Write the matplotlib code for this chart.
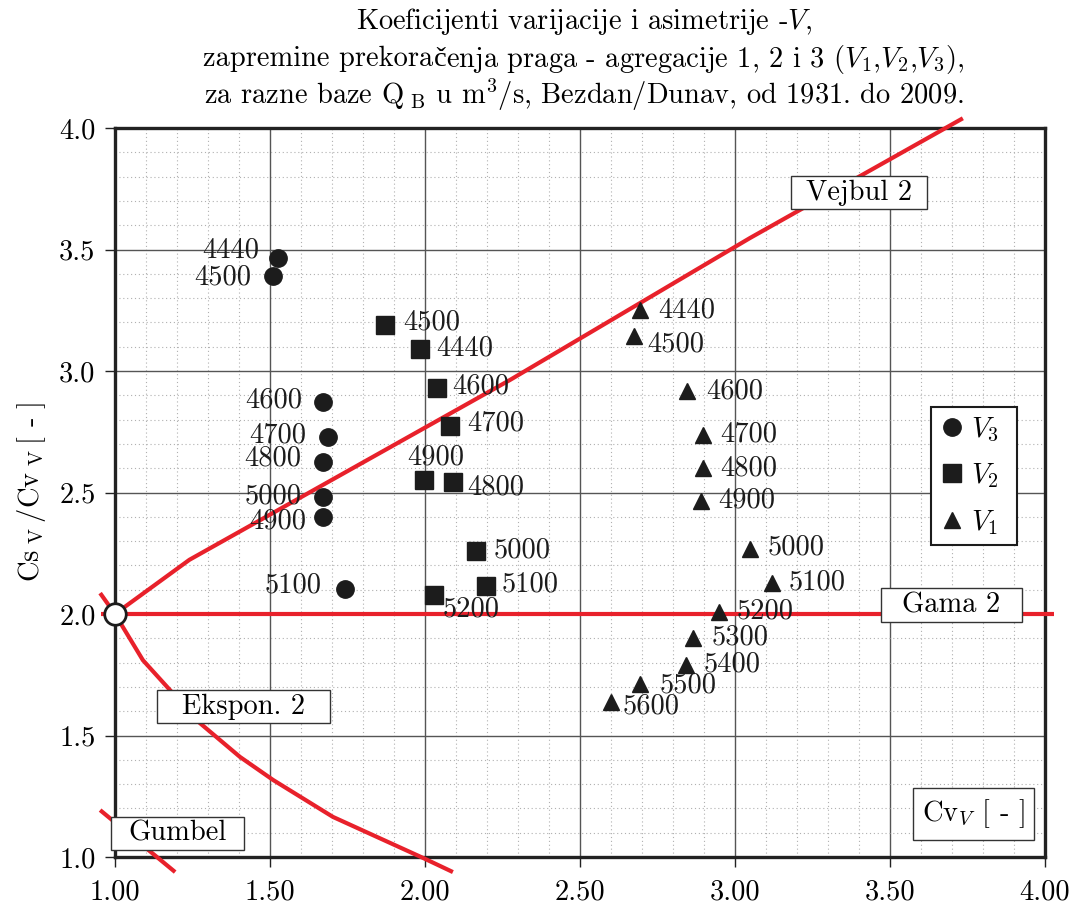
import matplotlib
matplotlib.use('Agg')
import matplotlib.pyplot as plt
from matplotlib.ticker import MultipleLocator, FormatStrFormatter
from matplotlib.lines import Line2D
from matplotlib.path import Path

plt.rcParams['font.family'] = ['cmr10', 'DejaVu Serif']
plt.rcParams['mathtext.fontset'] = 'cm'
plt.rcParams['axes.unicode_minus'] = False
plt.rcParams['axes.formatter.use_mathtext'] = True

# ---------------- data ----------------
v3_labels = ['4440', '4500', '4600', '4700', '4800', '5000', '4900', '5100']
v3_cv = [1.526, 1.510, 1.671, 1.687, 1.671, 1.671, 1.671, 1.742]
v3_ratio = [3.465, 3.391, 2.872, 2.728, 2.626, 2.481, 2.399, 2.103]

v2_labels = ['4500', '4440', '4600', '4700', '4900', '4800', '5000', '5100', '5200']
v2_cv = [1.871, 1.984, 2.039, 2.081, 1.997, 2.090, 2.165, 2.197, 2.029]
v2_ratio = [3.189, 3.091, 2.930, 2.774, 2.551, 2.543, 2.259, 2.115, 2.078]

v1_labels = ['4440', '4500', '4600', '4700', '4800', '4900', '5000',
             '5100', '5200', '5300', '5400', '5500', '5600']
v1_cv = [2.694, 2.674, 2.845, 2.897, 2.897, 2.890, 3.048,
         3.119, 2.948, 2.865, 2.842, 2.694, 2.600]
v1_ratio = [3.251, 3.144, 2.918, 2.737, 2.601, 2.465, 2.267,
            2.128, 2.008, 1.901, 1.790, 1.712, 1.638]

weibull_cv = [1.0, 1.24, 2.274, 3.048, 3.735]
weibull_ratio = [2.0, 2.223, 2.963, 3.547, 4.04]
gamma_cv = [0.955, 4.03]
gamma_ratio = [2.0, 2.0]
expon_cv = [0.952, 1.0, 1.09, 1.274, 1.403, 1.51, 1.703, 1.994, 2.09]
expon_ratio = [2.086, 2.0, 1.81, 1.551, 1.412, 1.317, 1.165, 0.996, 0.938]
gumbel_cv = [0.952, 1.194]
gumbel_ratio = [1.193, 0.938]
origin_cv = [1.0]
origin_ratio = [2.0]

x_ticks = [1.0, 1.5, 2.0, 2.5, 3.0, 3.5, 4.0]
y_ticks = [1.0, 1.5, 2.0, 2.5, 3.0, 3.5, 4.0]

# ---------------- label offsets (pixels, dy up) ----------------
v3_off = [(-19, 10), (-22, 0), (-21, 4), (-22, 4), (-22, 5), (-21, 3), (-17, -2), (-23, 5)]
v2_off = [(18, 5), (16, 2), (15, 4), (17, 4), (12, 25), (14, -3), (17, 3), (16, 4), (9, -12)]
v2_ha = ['left', 'left', 'left', 'left', 'center', 'left', 'left', 'left', 'left']
v1_off = [(18, 2), (13, -6), (19, 1), (17, 2), (17, 1), (17, 3), (18, 4),
          (17, 2), (18, 3), (18, 3), (18, 3), (19, 0), (12, -3)]

RED = '#e8212b'
INK = '#1c1c1c'
FS = 20.5


def rect_box(padx, pady):
    """Rectangular text box with separate horizontal / vertical padding."""
    def style(x0, y0, width, height, mutation_size):
        px = padx * mutation_size
        py = pady * mutation_size
        verts = [(x0 - px, y0 - py), (x0 + width + px, y0 - py),
                 (x0 + width + px, y0 + height + py), (x0 - px, y0 + height + py),
                 (x0 - px, y0 - py)]
        codes = [Path.MOVETO, Path.LINETO, Path.LINETO, Path.LINETO, Path.CLOSEPOLY]
        return Path(verts, codes)
    return style


fig = plt.figure(figsize=(10.73, 9.06), dpi=100)
ax = fig.add_axes([115 / 1073, 1 - 857 / 906, 930 / 1073, 729 / 906])

ax.set_xlim(1.0, 4.0)
ax.set_ylim(1.0, 4.0)
ax.xaxis.set_minor_locator(MultipleLocator(0.1))
ax.yaxis.set_minor_locator(MultipleLocator(0.1))
ax.set_xticks(x_ticks)
ax.set_yticks(y_ticks)
ax.xaxis.set_major_formatter(FormatStrFormatter('%.2f'))
ax.yaxis.set_major_formatter(FormatStrFormatter('%.1f'))
ax.tick_params(which='major', direction='out', length=7, width=1.0, color='#222',
               labelsize=FS)
ax.tick_params(axis='x', which='major', pad=9)
ax.tick_params(axis='y', which='major', pad=7)
ax.tick_params(which='minor', length=0)
ax.grid(which='major', color='#555555', lw=1.0, zorder=0)
ax.grid(which='minor', color='#b0b0b0', lw=0.8, ls=(0, (1, 2.5)), zorder=0)
ax.set_axisbelow(True)
for sp in ax.spines.values():
    sp.set_linewidth(2.4)
    sp.set_color('#222')
    sp.set_zorder(3)

# theoretical curves
for xs, ys in [(weibull_cv, weibull_ratio), (gamma_cv, gamma_ratio),
               (expon_cv, expon_ratio), (gumbel_cv, gumbel_ratio)]:
    ax.plot(xs, ys, color=RED, lw=3.0, clip_on=False, zorder=4, solid_capstyle='butt')

ax.plot(origin_cv, origin_ratio, 'o', ms=15.5, mfc='white', mec=INK, mew=2.0,
        clip_on=False, zorder=6)

# data points
ax.plot(v3_cv, v3_ratio, 'o', ms=12.5, color=INK, ls='none', zorder=5)
ax.plot(v2_cv, v2_ratio, 's', ms=12.5, color=INK, ls='none', zorder=5)
ax.plot(v1_cv, v1_ratio, '^', ms=12.0, color=INK, ls='none', zorder=5)

for lab, x, y, (dx, dy) in zip(v3_labels, v3_cv, v3_ratio, v3_off):
    ax.annotate(lab, (x, y), xytext=(dx, dy - 9), textcoords='offset pixels',
                ha='right', va='baseline', fontsize=FS, color=INK, zorder=7)
for lab, x, y, (dx, dy), ha in zip(v2_labels, v2_cv, v2_ratio, v2_off, v2_ha):
    ax.annotate(lab, (x, y), xytext=(dx, dy - 9), textcoords='offset pixels',
                ha=ha, va='baseline', fontsize=FS, color=INK, zorder=7)
for lab, x, y, (dx, dy) in zip(v1_labels, v1_cv, v1_ratio, v1_off):
    ax.annotate(lab, (x, y), xytext=(dx, dy - 9), textcoords='offset pixels',
                ha='left', va='baseline', fontsize=FS, color=INK, zorder=7)

# boxed labels
def boxprops(padx, pady):
    return dict(boxstyle=rect_box(padx, pady), fc='white', ec='#333', lw=1.0)

ax.text(3.40, 3.735, 'Vejbul 2', ha='center', va='center', fontsize=FS,
        bbox=boxprops(0.53, 0.12), zorder=8)
ax.text(3.697, 2.037, 'Gama 2', ha='center', va='center', fontsize=FS,
        bbox=boxprops(0.75, 0.12), zorder=8)
ax.text(1.4145, 1.619, 'Ekspon. 2', ha='center', va='center', fontsize=FS,
        bbox=boxprops(0.88, 0.12), zorder=8)
ax.text(1.203, 1.097, 'Gumbel', ha='center', va='center', fontsize=FS,
        bbox=boxprops(0.61, 0.12), zorder=8, clip_on=False)
ax.text(3.769, 1.177, r'Cv$_{V}$ [ - ]', ha='center', va='center', fontsize=FS,
        bbox=boxprops(0.33, 0.33), zorder=8)

# legend
handles = [Line2D([], [], marker='o', ls='none', ms=12.5, color=INK),
           Line2D([], [], marker='s', ls='none', ms=12.5, color=INK),
           Line2D([], [], marker='^', ls='none', ms=12.0, color=INK)]
lx0 = (931 - 115) / 930
lx1 = (1017 - 115) / 930
ly1 = (857 - 407) / 729
ly0 = (857 - 542) / 729
leg = ax.legend(handles, [r'$V_3$', r'$V_2$', r'$V_1$'], loc='upper left',
                bbox_to_anchor=(lx0, ly0, lx1 - lx0, ly1 - ly0), mode='expand',
                borderaxespad=0, fontsize=FS,
                frameon=True, fancybox=False, edgecolor=INK, framealpha=1,
                handlelength=0.9, handletextpad=0.2, labelspacing=0.62,
                borderpad=0.3)
leg.get_frame().set_linewidth(1.5)
leg.set_zorder(9)

# y label
fig.text(32 / 1073, 1 - 492 / 906,
         r'Cs$_{\ \mathrm{V}}\,$/Cv$_{\ \mathrm{V}}\,$[ - ]',
         rotation=90, ha='center', va='center', fontsize=FS)

# title
tx = 584 / 1073
fig.text(tx, 1 - 29 / 906, r'Koeficijenti varijacije i asimetrije -$V$,',
         ha='center', va='baseline', fontsize=FS)

# line 2 assembled from pieces so that the letter "č" comes from a font that has it
renderer = fig.canvas.get_renderer()
pieces = [('zapremine prekora', None),
          ('č', 'Liberation Serif'),
          (r'enja praga - agregacije 1, 2 i 3 ($V_1$,$V_2$,$V_3$),', None)]
y2 = 1 - 66.5 / 906
texts = []
for s, fam in pieces:
    kw = dict(ha='left', va='baseline', fontsize=FS)
    if fam:
        kw['family'] = fam
    texts.append(fig.text(0, y2, s, **kw))
widths = [t.get_window_extent(renderer).width for t in texts]
total = sum(widths)
x0 = tx * fig.bbox.width - total / 2
for t, w in zip(texts, widths):
    t.set_x(x0 / fig.bbox.width)
    x0 += w

fig.text(tx, 1 - 104 / 906,
         r'za razne baze Q$_{\ \mathrm{B}}$ u m$^3$/s, Bezdan/Dunav, od 1931. do 2009.',
         ha='center', va='baseline', fontsize=FS)

fig.savefig('out.png', dpi=100)
